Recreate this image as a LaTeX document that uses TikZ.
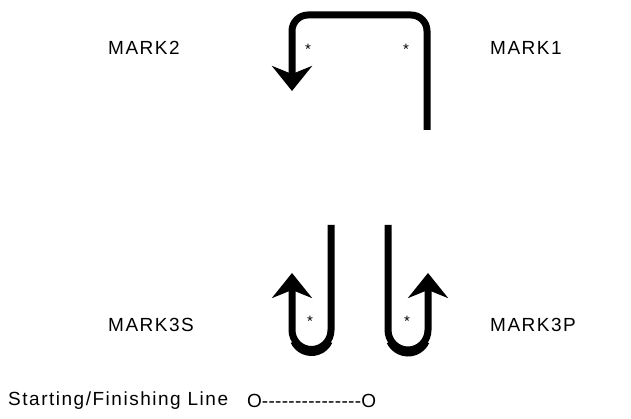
\documentclass[tikz,border=0pt]{standalone}
\usepackage{fontspec}
\setmainfont{Liberation Sans}
\newfontfamily\lblfont[LetterSpace=8]{Liberation Sans}
\usetikzlibrary{arrows.meta}
\newcommand\hy{-\kern0.3pt}
\tikzset{
  course/.style={line width=7pt, -{Stealth[length=25pt,width=40pt,inset=8pt]}},
  bowl/.style={line width=7pt},
  lbl/.style={anchor=west, inner sep=0pt, font=\lblfont\fontsize{19}{22}\selectfont},
  star/.style={inner sep=0pt, font=\fontsize{15}{16}\selectfont}
}
\begin{document}
\begin{tikzpicture}[x=1pt,y=-1pt]
\useasboundingbox (0,0) rectangle (631,419);
% top course
\coordinate (t1) at (427,130);
\coordinate (t2) at (427,15);
\coordinate (t3) at (292,15);
\coordinate (t4) at (292,91);
\draw[course, rounded corners=16pt] (t1) -- (t2) -- (t3) -- (t4);
% bottom left hook
\coordinate (s1) at (331,225);
\coordinate (s2) at (331,330);
\coordinate (s3) at (292,273);
\coordinate (sc) at (311.5,333);
\draw[course] (s1) -- (s2) arc[start angle=0, end angle=180, radius=19.5] -- (s3);
\draw[bowl] (sc) ++(25:19.5) arc[start angle=25, end angle=155, radius=19.5];
% bottom right hook
\coordinate (p1) at (388,225);
\coordinate (p2) at (388,330);
\coordinate (p3) at (428,273);
\coordinate (pc) at (408,333);
\draw[course] (p1) -- (p2) arc[start angle=180, end angle=0, radius=20] -- (p3);
\draw[bowl] (pc) ++(25:20) arc[start angle=25, end angle=155, radius=20];
% marks
\node[star] (m2) at (308,49) {*};
\node[star] (m1) at (406,49) {*};
\node[star] (m3s) at (310,321) {*};
\node[star] (m3p) at (407,321) {*};
% labels
\node[lbl] (l2) at (108,48) {MARK2};
\node[lbl] (l1) at (490,48) {MARK1};
\node[lbl] (l3s) at (108,325) {MARK3S};
\node[lbl] (l3p) at (490,325) {MARK3P};
\node[lbl] (sf) at (8,401) {Starting/Finishing Line};
\node[anchor=west, inner sep=0pt, font=\fontsize{19}{22}\selectfont] (ln) at (247,401) {O\hy\hy\hy\hy\hy\hy\hy\hy\hy\hy\hy\hy\hy\hy\hy O};
\end{tikzpicture}
\end{document}
